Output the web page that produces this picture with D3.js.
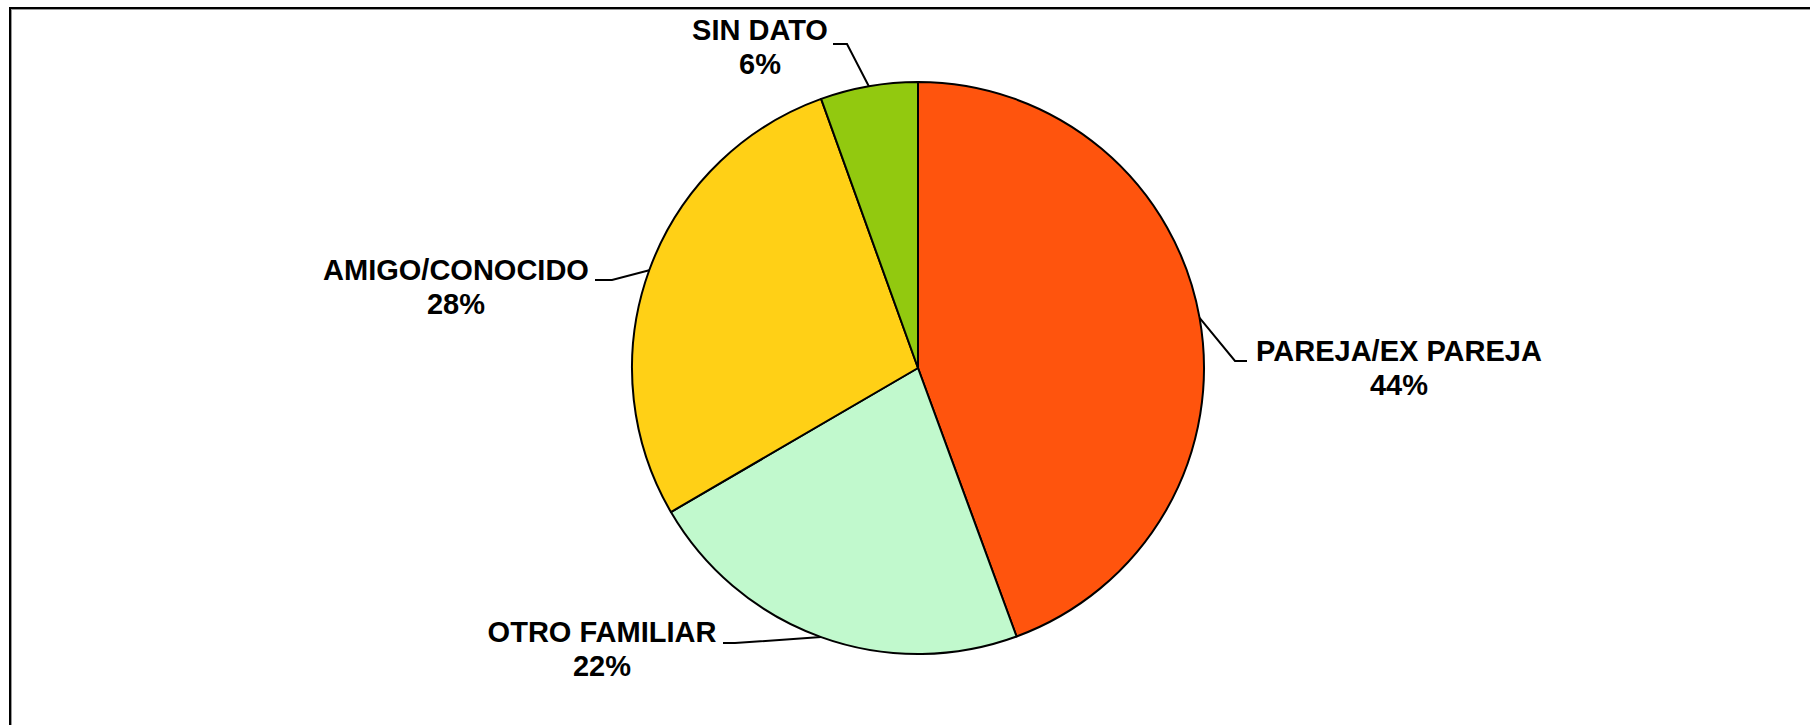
<!DOCTYPE html>
<html>
<head>
<meta charset="utf-8">
<script src="https://cdn.jsdelivr.net/npm/d3@7"></script>
<style>
  html, body { margin: 0; padding: 0; background: #fff; }
  svg { display: block; }
</style>
</head>
<body>
<svg id="chart"></svg>
<script>
// data
const categories = ["PAREJA/EX PAREJA", "OTRO FAMILIAR", "AMIGO/CONOCIDO", "SIN DATO"];
const values = [44.4, 22.2, 27.9, 5.5];
const colors = ["#FF540D", "#C1F9CD", "#FFD016", "#92C90F"];

const width = 1810;
const height = 725;
const cx = 918, cy = 368, radius = 286;

// label layout: elbow offset from slice edge point, end of leader, text centre & side
const labelLayout = [
  { elbow: [1235, 361], end: [1247, 361], tx: 1399, ty: 361 },
  { elbow: [735, 643], end: [723, 643], tx: 602, ty: 642 },
  { elbow: [612, 280], end: [595, 280], tx: 456, ty: 280 },
  { elbow: [847, 44], end: [833, 44], tx: 760, ty: 40 }
];

const svg = d3.select("#chart")
  .attr("width", width)
  .attr("height", height);

// frame
svg.append("line")
  .attr("x1", 10).attr("x2", width).attr("y1", 9.5).attr("y2", 9.5)
  .attr("stroke", "#999").attr("stroke-width", 1);
svg.append("line")
  .attr("x1", 11.5).attr("x2", 11.5).attr("y1", 8).attr("y2", height)
  .attr("stroke", "#999").attr("stroke-width", 1);
svg.append("line")
  .attr("x1", 9.5).attr("x2", width).attr("y1", 8).attr("y2", 8)
  .attr("stroke", "#000").attr("stroke-width", 2);
svg.append("line")
  .attr("x1", 10).attr("x2", 10).attr("y1", 7).attr("y2", height)
  .attr("stroke", "#000").attr("stroke-width", 2);

const pie = d3.pie().sort(null).value(d => d)(values);
const arc = d3.arc().innerRadius(0).outerRadius(radius);
const edgeArc = d3.arc().innerRadius(radius).outerRadius(radius);

const g = svg.append("g").attr("transform", `translate(${cx},${cy})`);

g.selectAll("path")
  .data(pie)
  .enter()
  .append("path")
    .attr("d", arc)
    .attr("fill", (d, i) => colors[i])
    .attr("stroke", "#000")
    .attr("stroke-width", 2)
    .attr("stroke-linejoin", "round");

// leader lines
pie.forEach((d, i) => {
  const c = edgeArc.centroid(d);
  const L = labelLayout[i];
  const pts = [[c[0] + cx, c[1] + cy], L.elbow, L.end];
  svg.append("path")
    .attr("d", d3.line()(pts))
    .attr("fill", "none")
    .attr("stroke", "#000")
    .attr("stroke-width", 2);

  const t = svg.append("text")
    .attr("x", L.tx)
    .attr("y", L.ty)
    .attr("text-anchor", "middle")
    .style("font", "bold 29px 'Liberation Sans', Arial, sans-serif")
    .style("fill", "#000");
  t.append("tspan").attr("x", L.tx).text(categories[i]);
  t.append("tspan").attr("x", L.tx).attr("dy", 34).text(Math.round(values[i]) + "%");
});
</script>
</body>
</html>
